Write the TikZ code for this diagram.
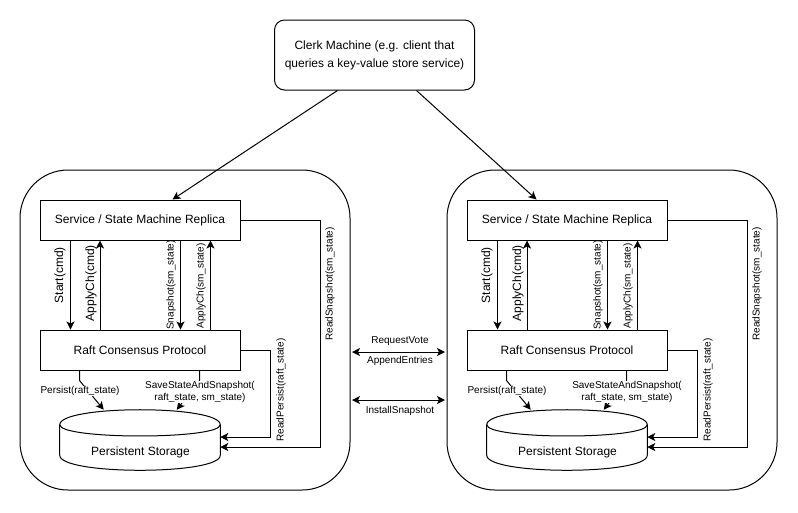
\documentclass[tikz,border=0pt]{standalone}
\usepackage{fontspec}
\setmainfont{Liberation Sans}
\usetikzlibrary{arrows.meta,calc}
\tikzset{
  px/.style={x=0.75pt,y=-0.75pt},
  edge/.style={draw=black,line width=0.75pt},
  arrowedge/.style={edge,-{Stealth[length=6pt,width=6pt,inset=1.5pt]}},
  bothedge/.style={edge,{Stealth[length=6pt,width=6pt,inset=1.5pt]}-{Stealth[length=6pt,width=6pt,inset=1.5pt]}},
  outerbox/.style={draw=black,line width=0.75pt,rounded corners=36pt,minimum width=247.5pt,minimum height=240pt,inner sep=0pt},
  procbox/.style={draw=black,line width=0.75pt,minimum width=150pt,minimum height=30pt,inner sep=0pt,font=\fontsize{9}{11}\selectfont},
  clerkbox/.style={draw=black,line width=0.75pt,rounded corners=7.5pt,minimum width=150pt,minimum height=52.5pt,inner sep=0pt,align=center,font=\fontsize{9}{13.5}\selectfont},
  storelabel/.style={inner sep=0pt,font=\fontsize{9}{11}\selectfont},
  biglabel/.style={inner sep=0pt,rotate=90,font=\fontsize{9}{11}\selectfont},
  smalllabel/.style={inner sep=0pt,rotate=90,font=\fontsize{7.5}{9}\selectfont},
  textlabel/.style={inner sep=0.5pt,fill=white,align=center,font=\fontsize{7.5}{9}\selectfont},
  plainlabel/.style={inner sep=0pt,font=\fontsize{7.5}{9}\selectfont},
}
\newcommand{\replica}[2]{%
  \begin{scope}[shift={(#2,0)}]
    \node[outerbox] (#1outer) at (185,330) {};
    \node[procbox] (#1svc) at (140,220) {Service / State Machine Replica};
    \node[procbox] (#1raft) at (140,350) {Raft Consensus Protocol};
    \node[minimum width=120pt,minimum height=45pt,inner sep=0pt] (#1store) at (140,440) {};
    \coordinate (#1sa) at ($(#1store.north west)+(0,15)$);
    \coordinate (#1sb) at ($(#1store.north east)+(0,15)$);
    \coordinate (#1sc) at ($(#1store.south east)+(0,-15)$);
    \coordinate (#1sd) at ($(#1store.south west)+(0,-15)$);
    \draw[line width=0.75pt]
      (#1sa) .. controls +(0,-20) and +(0,-20) .. (#1sb)
      -- (#1sc) .. controls +(0,20) and +(0,20) .. (#1sd) -- cycle;
    \draw[line width=0.75pt]
      (#1sa) .. controls +(0,15) and +(0,15) .. (#1sb);
    \node[storelabel] (#1storetext) at (140.5,452.5) {Persistent Storage};
    % vertical calls
    \draw[arrowedge] ($(#1svc.south west)+(31,0)$) -- ($(#1raft.north west)+(31,0)$);
    \draw[arrowedge] ($(#1raft.north west)+(60.5,0)$) -- ($(#1svc.south west)+(60.5,0)$);
    \draw[arrowedge] ($(#1svc.south west)+(141,0)$) -- ($(#1raft.north west)+(141,0)$);
    \draw[arrowedge] ($(#1raft.north west)+(171,0)$) -- ($(#1svc.south west)+(171,0)$);
    \node[biglabel] (#1startl) at (60,275) {Start(cmd)};
    \node[biglabel] (#1applyl) at (91,283) {ApplyCh(cmd)};
    \node[smalllabel] (#1snapl) at (171,285) {Snapshot(sm\_state)};
    \node[smalllabel] (#1applysl) at (201,286) {ApplyCh(sm\_state)};
    % storage connectors
    \draw[arrowedge] (#1svc.east) -- ++(80,0) |- ($(#1store.east)+(0,7)$);
    \draw[arrowedge] (#1raft.east) -- ++(30,0) |- ($(#1store.east)+(0,-3)$);
    \node[smalllabel] (#1rsnapl) at (330,284) {ReadSnapshot(sm\_state)};
    \node[smalllabel] (#1rpersl) at (281,390) {ReadPersist(raft\_state)};
    \draw[arrowedge] ($(#1raft.south west)+(40,0)$) -- ++(0,10) -- ($(#1store.north west)+(44,0)$);
    \draw[arrowedge] ($(#1raft.south west)+(160,0)$) -- ++(0,10) -- ($(#1store.north west)+(117,0)$);
    \node[textlabel] (#1persl) at (80,391) {Persist(raft\_state)};
    \node[textlabel] (#1savel) at (200,392) {SaveStateAndSnapshot(\\raft\_state, sm\_state)};
  \end{scope}%
}
\begin{document}
\begin{tikzpicture}[px]
  \useasboundingbox (0,0) rectangle (798,512);
  \node[clerkbox] (clerk) at (374.5,55) {Clerk Machine (e.g. client that\\queries a key-value store service)};
  \replica{l}{0}
  \replica{r}{427}
  \draw[arrowedge] ($(clerk.south west)+(63.5,0)$) -- ($(lsvc.north west)+(133,0)$);
  \draw[arrowedge] ($(clerk.south west)+(142.5,0)$) -- ($(rsvc.north west)+(70,0)$);
  \draw[bothedge] ($(louter.east)+(1.5,22)$) -- ($(router.west)+(-1.5,22)$);
  \draw[bothedge] ($(louter.east)+(1.5,70)$) -- ($(router.west)+(-1.5,70)$);
  \node[plainlabel] (rv) at (400,341) {RequestVote};
  \node[plainlabel] (ae) at (400,361) {AppendEntries};
  \node[plainlabel] (is) at (400,411) {InstallSnapshot};
\end{tikzpicture}
\end{document}
